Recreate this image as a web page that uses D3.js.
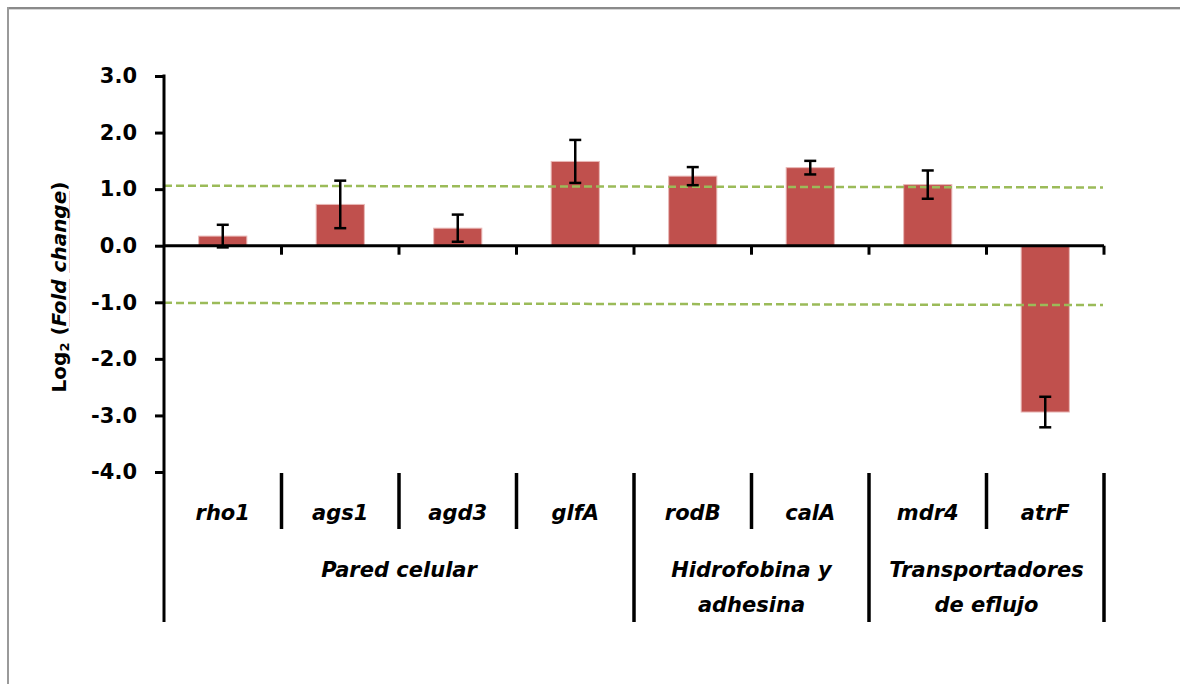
<!DOCTYPE html>
<html>
<head>
<meta charset="utf-8">
<script src="https://cdn.jsdelivr.net/npm/d3@7"></script>
<style>
  body { margin: 0; background: #fff; }
  text { font-family: "DejaVu Sans", sans-serif; font-weight: bold; }
</style>
</head>
<body>
<div id="main"></div>
<script>
const ctx = {
    WIDTH: 1180,
    HEIGHT: 684
}

// data
const genes = ["rho1", "ags1", "agd3", "glfA", "rodB", "calA", "mdr4", "atrF"];
const values = [0.17, 0.73, 0.31, 1.49, 1.23, 1.38, 1.08, -2.94];
const errors = [0.20, 0.42, 0.24, 0.38, 0.16, 0.12, 0.25, 0.27];
const groupLabels = [["Pared celular"], ["Hidrofobina y", "adhesina"], ["Transportadores", "de eflujo"]];
const groupSizes = [4, 2, 2];
const upperThreshold = [1.06, 1.03];  // start, end
const lowerThreshold = [-1.01, -1.05];
const yTicks = [-4, -3, -2, -1, 0, 1, 2, 3];

function populateSVGcanvas() {
  const svg = d3.select("#main svg");
  const left = 164, right = 1104;

  const x = d3.scaleBand().domain(genes).range([left, right]).paddingInner(0).paddingOuter(0);
  const y = d3.scaleLinear().domain([-4, 3]).range([472, 76]);
  const barW = x.bandwidth() * 0.41;

  // frame (only top and left edge visible)
  svg.append("line").attr("x1", 7).attr("x2", ctx.WIDTH).attr("y1", 8).attr("y2", 8)
      .attr("stroke", "#8a8a8a").attr("stroke-width", 2);
  svg.append("line").attr("x1", 7).attr("x2", ctx.WIDTH).attr("y1", 9.5).attr("y2", 9.5)
      .attr("stroke", "#d6d6d6").attr("stroke-width", 1);
  svg.append("line").attr("x1", 8).attr("x2", 8).attr("y1", 7).attr("y2", ctx.HEIGHT)
      .attr("stroke", "#9a9a9a").attr("stroke-width", 2);

  // bars
  svg.append("g").selectAll("rect")
      .data(genes)
      .enter().append("rect")
      .attr("x", d => x(d) + (x.bandwidth() - barW) / 2)
      .attr("width", barW)
      .attr("y", (d, i) => y(Math.max(0, values[i])))
      .attr("height", (d, i) => Math.abs(y(values[i]) - y(0)))
      .attr("fill", "#C0504D")
      .attr("stroke", "#e9b8b7")
      .attr("stroke-width", 1);

  // threshold lines
  const thr = d3.line().x((d, i) => i === 0 ? left : right - 1).y(d => y(d));
  [upperThreshold, lowerThreshold].forEach(t => {
    svg.append("path").attr("d", thr(t))
        .attr("fill", "none")
        .attr("stroke", "#9BBB59")
        .attr("stroke-width", 2.5)
        .attr("stroke-dasharray", "8,4");
  });

  // error bars
  const eb = svg.append("g").attr("stroke", "#000").attr("stroke-width", 2.5)
      .selectAll("g").data(genes).enter().append("g");
  eb.append("line")
      .attr("x1", d => x(d) + x.bandwidth() / 2).attr("x2", d => x(d) + x.bandwidth() / 2)
      .attr("y1", (d, i) => y(values[i] + errors[i])).attr("y2", (d, i) => y(values[i] - errors[i]));
  [1, -1].forEach(s => {
    eb.append("line")
        .attr("x1", d => x(d) + x.bandwidth() / 2 - 6).attr("x2", d => x(d) + x.bandwidth() / 2 + 6)
        .attr("y1", (d, i) => y(values[i] + s * errors[i])).attr("y2", (d, i) => y(values[i] + s * errors[i]));
  });

  // y axis
  const yAxis = svg.append("g")
      .attr("transform", `translate(${left},0)`)
      .call(d3.axisLeft(y).tickValues(yTicks).tickFormat(d => d.toFixed(1))
          .tickSize(9).tickSizeOuter(0).tickPadding(18));
  yAxis.select(".domain").remove();
  yAxis.selectAll(".tick line").attr("stroke-width", 3);
  yAxis.selectAll(".tick text").attr("font-size", 21).attr("fill", "#000")
      .style("font-family", "DejaVu Sans").style("font-weight", "bold");
  svg.append("line").attr("x1", left).attr("x2", left).attr("y1", y(3) - 1.5).attr("y2", 622)
      .attr("stroke", "#000").attr("stroke-width", 3);

  // x axis at zero
  svg.append("line").attr("x1", left).attr("x2", right).attr("y1", y(0)).attr("y2", y(0))
      .attr("stroke", "#000").attr("stroke-width", 3);
  svg.append("g").selectAll("line")
      .data(genes)
      .enter().append("line")
      .attr("x1", d => x(d) + x.bandwidth()).attr("x2", d => x(d) + x.bandwidth())
      .attr("y1", y(0)).attr("y2", y(0) + 9)
      .attr("stroke", "#000").attr("stroke-width", 3);

  // category table under the plot
  let start = 0;
  const bounds = [];
  groupSizes.forEach((n, gi) => {
    for (let k = 1; k < n; k++) bounds.push({pos: x(genes[start + k]), group: false});
    start += n;
    bounds.push({pos: start < genes.length ? x(genes[start]) : right, group: true});
  });
  svg.append("g").selectAll("line")
      .data(bounds)
      .enter().append("line")
      .attr("x1", d => d.pos).attr("x2", d => d.pos)
      .attr("y1", 473).attr("y2", d => d.group ? 622 : 529)
      .attr("stroke", "#000").attr("stroke-width", 3.5);

  svg.append("g").selectAll("text")
      .data(genes)
      .enter().append("text")
      .attr("x", d => x(d) + x.bandwidth() / 2)
      .attr("y", 520)
      .attr("text-anchor", "middle")
      .attr("font-size", 21)
      .attr("font-style", "italic")
      .text(d => d);

  start = 0;
  groupLabels.forEach((lines, gi) => {
    const x0 = x(genes[start]);
    start += groupSizes[gi];
    const x1 = start < genes.length ? x(genes[start]) : right;
    const t = svg.append("text")
        .attr("x", (x0 + x1) / 2)
        .attr("y", 577)
        .attr("text-anchor", "middle")
        .attr("font-size", 21)
        .attr("font-style", "italic");
    lines.forEach((l, li) => {
      t.append("tspan").attr("x", (x0 + x1) / 2).attr("dy", li === 0 ? 0 : 35).text(l);
    });
  });

  // y label
  const lg = svg.append("g").attr("transform", "translate(66,287) rotate(-90)");
  const yl = lg.append("text")
      .attr("text-anchor", "middle")
      .attr("font-size", 20);
  yl.append("tspan").text("Log");
  yl.append("tspan").attr("font-size", 13).attr("baseline-shift", "-25%").text("2");
  yl.append("tspan").text(" (");
  yl.append("tspan").attr("font-style", "italic").text("Fold change");
  yl.append("tspan").text(")");

  // spell-check squiggle under "Fold" and "change"
  const node = yl.node();
  [[6, 9], [11, 16]].forEach(([a, b]) => {
    const p0 = node.getStartPositionOfChar(a), p1 = node.getEndPositionOfChar(b);
    lg.append("line")
        .attr("x1", p0.x).attr("x2", p1.x).attr("y1", 3.5).attr("y2", 3.5)
        .attr("stroke", "#e88a8a").attr("stroke-width", 1)
        .attr("stroke-dasharray", "1,1");
  });
}

function createViz(){
    let svgEl = d3.select("#main").append("svg");
    svgEl.attr("width", ctx.WIDTH);
    svgEl.attr("height", ctx.HEIGHT);
    populateSVGcanvas();
}

createViz();
</script>
</body>
</html>
